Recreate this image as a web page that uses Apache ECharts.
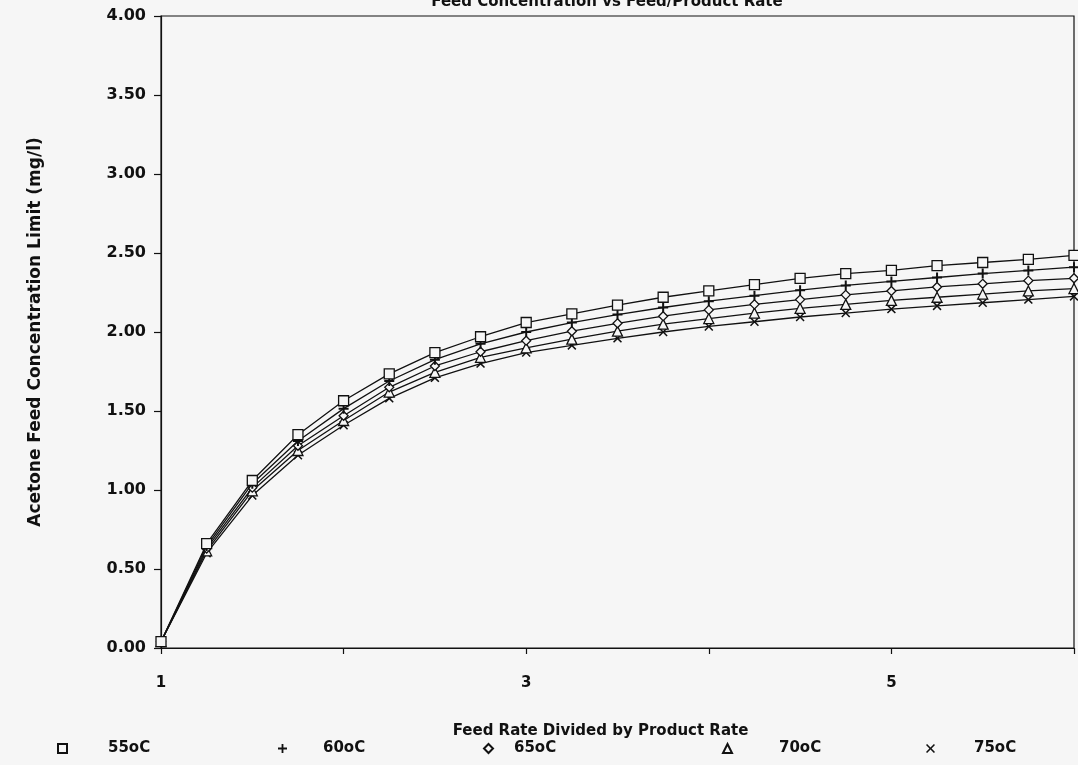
<!DOCTYPE html>
<html>
<head>
<meta charset="utf-8">
<script src="https://cdn.jsdelivr.net/npm/echarts@6/dist/echarts.min.js"></script>
<style>
  html, body { margin: 0; padding: 0; background: #f6f6f6; }
  #chart { width: 1078px; height: 765px; }
</style>
</head>
<body>
<div id="chart"></div>
<script>
  // feed rate / product rate, one point every 0.25
  var feedRatio = [1, 1.25, 1.5, 1.75, 2, 2.25, 2.5, 2.75, 3, 3.25, 3.5, 3.75, 4, 4.25, 4.5, 4.75, 5, 5.25, 5.5, 5.75, 6]

  var names = ['55oC', '60oC', '65oC', '70oC', '75oC']

  var c55 = [0.04, 0.66, 1.06, 1.35, 1.565, 1.735, 1.87, 1.97, 2.06, 2.115, 2.17, 2.22, 2.26, 2.30, 2.34, 2.37, 2.39, 2.42, 2.44, 2.46, 2.485]
  var c60 = [0.04, 0.645, 1.04, 1.31, 1.515, 1.69, 1.825, 1.925, 2.00, 2.06, 2.11, 2.155, 2.195, 2.23, 2.265, 2.295, 2.32, 2.345, 2.37, 2.39, 2.41]
  var c65 = [0.04, 0.63, 1.015, 1.28, 1.47, 1.65, 1.785, 1.875, 1.945, 2.005, 2.055, 2.10, 2.14, 2.175, 2.205, 2.235, 2.26, 2.285, 2.305, 2.325, 2.34]
  var c70 = [0.04, 0.615, 0.995, 1.25, 1.44, 1.62, 1.745, 1.84, 1.90, 1.955, 2.005, 2.05, 2.085, 2.12, 2.15, 2.175, 2.20, 2.22, 2.24, 2.26, 2.275]
  var c75 = [0.04, 0.60, 0.965, 1.22, 1.41, 1.58, 1.71, 1.80, 1.87, 1.915, 1.96, 2.00, 2.035, 2.065, 2.095, 2.12, 2.145, 2.165, 2.185, 2.205, 2.225]

  var allValues = [c55, c60, c65, c70, c75]

  var BG = '#f6f6f6'
  var INK = '#111'
  var FONT = 'DejaVu Sans'

  var plusPath = 'path://M4,0L6,0L6,4L10,4L10,6L6,6L6,10L4,10L4,6L0,6L0,4L4,4Z'
  var crossPath = 'path://M0,1.2L1.2,0L5,3.8L8.8,0L10,1.2L6.2,5L10,8.8L8.8,10L5,6.2L1.2,10L0,8.8L3.8,5Z'

  var symbols = ['rect', plusPath, 'diamond', 'triangle', crossPath]
  var sizes = [10, 10, 9, 10, 9]
  var hollow = [true, false, true, true, false]

  // legend placement (symbol left edge, gap to text)
  var legendLeft = [52, 273, 478, 717, 921]
  var legendGap = [36, 31, 16, 42, 34]

  var chart = echarts.init(document.getElementById('chart'))

  var series = names.map(function (n, i) {
    return {
      name: n,
      type: 'line',
      data: feedRatio.map(function (x, j) { return [x, allValues[i][j]] }),
      symbol: symbols[i],
      symbolSize: sizes[i],
      showAllSymbol: true,
      z: 10 - i,
      lineStyle: { color: INK, width: 1.3 },
      itemStyle: hollow[i]
        ? { color: BG, borderColor: INK, borderWidth: 1.3 }
        : { color: INK, borderWidth: 0 },
      emphasis: { disabled: true },
      animation: false
    }
  })

  var legends = names.map(function (n, i) {
    return {
      data: [{ name: n, icon: symbols[i] }],
      left: legendLeft[i],
      top: 736,
      itemWidth: 9,
      itemHeight: 9,
      selectedMode: false,
      textStyle: {
        color: INK,
        fontFamily: FONT,
        fontSize: 15,
        fontWeight: 'bold',
        padding: [0, 0, 0, legendGap[i]]
      }
    }
  })

  chart.setOption({
    backgroundColor: BG,
    title: {
      text: 'Feed Concentration vs Feed/Product Rate',
      left: 602,
      textAlign: 'center',
      top: -10,
      textStyle: { color: INK, fontFamily: FONT, fontSize: 15, fontWeight: 'bold' }
    },
    legend: legends,
    grid: {
      left: 161,
      right: 4,
      top: 16,
      bottom: 117,
      show: true,
      borderColor: INK,
      borderWidth: 1.2,
      backgroundColor: 'transparent'
    },
    xAxis: {
      type: 'value',
      min: 1,
      max: 6,
      interval: 1,
      name: 'Feed Rate Divided by Product Rate',
      nameLocation: 'middle',
      nameGap: 76,
      nameTextStyle: { color: INK, fontFamily: FONT, fontSize: 15, fontWeight: 'bold', padding: [0, 34, 0, 0] },
      axisLine: { lineStyle: { color: INK, width: 1.2 } },
      axisTick: { inside: false, length: 6, lineStyle: { color: INK, width: 1.2 } },
      splitLine: { show: false },
      axisLabel: {
        color: INK,
        fontFamily: FONT,
        fontSize: 15,
        fontWeight: 'bold',
        margin: 28,
        formatter: function (v) { return v % 2 === 1 ? String(v) : '' }
      }
    },
    yAxis: {
      type: 'value',
      min: 0,
      max: 4,
      interval: 0.5,
      name: 'Acetone Feed Concentration Limit (mg/l)',
      nameLocation: 'middle',
      nameGap: 117,
      nameTextStyle: { color: INK, fontFamily: FONT, fontSize: 17, fontWeight: 'bold' },
      axisLine: { lineStyle: { color: INK, width: 1.2 } },
      axisTick: { inside: false, length: 7, lineStyle: { color: INK, width: 1.2 } },
      splitLine: { show: false },
      axisLabel: {
        color: INK,
        fontFamily: FONT,
        fontSize: 16,
        fontWeight: 'bold',
        margin: 15,
        formatter: function (v) { return v.toFixed(2) }
      }
    },
    series: series
  })
</script>
</body>
</html>
